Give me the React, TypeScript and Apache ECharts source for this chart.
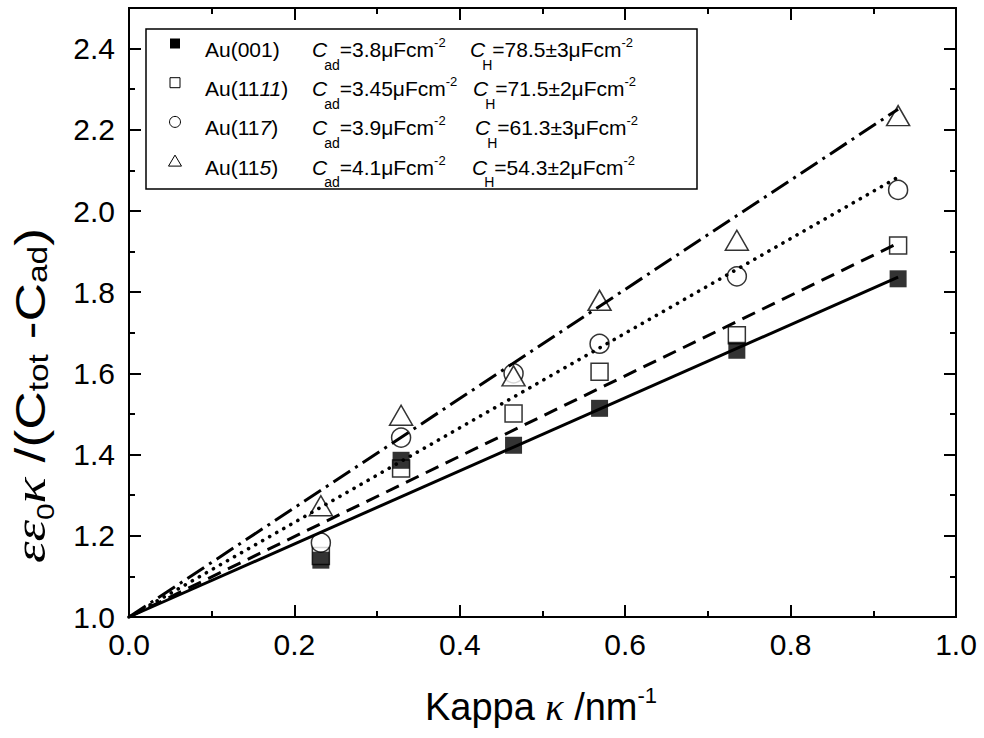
import React, { useEffect, useRef } from 'react';
import * as echarts from 'echarts';

// ---------- data ----------
const kappa = [0.232, 0.329, 0.465, 0.569, 0.735, 0.93];
const au001 = [1.14, 1.386, 1.423, 1.514, 1.657, 1.833];
const au1111 = [1.15, 1.366, 1.501, 1.604, 1.694, 1.915];
const au117 = [1.183, 1.442, 1.6, 1.673, 1.839, 2.052];
const au115 = [1.274, 1.497, 1.594, 1.78, 1.928, 2.235];
const fitSlopes = [0.9, 0.99, 1.165, 1.345]; // 001, 1111, 117, 115
const fitRange = [0, 0.93];
const fitIntercept = 1.0;

const cAd = ['3.8', '3.45', '3.9', '4.1'];
const cH = ['78.5±3', '71.5±2', '61.3±3', '54.3±2'];
const xTitle = 'Kappa';
const SANS = 'Liberation Sans';
const SERIF = 'Liberation Serif';

type Seg = { t: string; s: number; serif?: boolean; i?: boolean; dy?: number; gap?: number };

let _ctx: CanvasRenderingContext2D | null = null;
function textWidth(t: string, s: number, fam: string, italic?: boolean) {
  if (!_ctx) _ctx = document.createElement('canvas').getContext('2d');
  _ctx!.font = `${italic ? 'italic ' : ''}${s}px "${fam}"`;
  return _ctx!.measureText(t).width;
}
function segsWidth(segs: Seg[]) {
  return segs.reduce((a, g) => a + textWidth(g.t, g.s, g.serif ? SERIF : SANS, g.i) + (g.gap || 0), 0);
}
function buildSegs(segs: Seg[], x0: number, yc: number) {
  let x = x0;
  const out: any[] = [];
  for (const g of segs) {
    const fam = g.serif ? SERIF : SANS;
    out.push({
      type: 'text',
      x,
      y: yc + (g.dy || 0),
      silent: true,
      style: {
        text: g.t,
        fontSize: g.s,
        fontFamily: fam,
        fontStyle: g.i ? 'italic' : 'normal',
        fill: '#000',
        align: 'left',
        verticalAlign: 'middle',
      },
    });
    x += textWidth(g.t, g.s, fam, g.i) + (g.gap || 0);
  }
  return out;
}

const surfaceSegs: Seg[][] = [
  [{ t: 'Au(001)', s: 21 }],
  [{ t: 'Au(11', s: 21 }, { t: '11', s: 21, i: true }, { t: ')', s: 21 }],
  [{ t: 'Au(11', s: 21 }, { t: '7', s: 21, i: true }, { t: ')', s: 21 }],
  [{ t: 'Au(11', s: 21 }, { t: '5', s: 21, i: true }, { t: ')', s: 21 }],
];
const symbolKinds = ['filledRect', 'rect', 'circle', 'triangle'];

export default function App() {
  const ref = useRef<HTMLDivElement>(null);
  useEffect(() => {
    if (!ref.current) return;
    const chart = echarts.init(ref.current, null, { renderer: 'svg' });

    const tickStyle = { color: '#000', width: 2 };
    const mkX = (pos: 'bottom' | 'top', labels: boolean) => ({
      type: 'value',
      position: pos,
      min: 0,
      max: 1,
      interval: 0.2,
      axisLine: { show: true, onZero: false, lineStyle: { color: '#000', width: 2 } },
      axisTick: { show: true, inside: true, length: 12, lineStyle: tickStyle },
      minorTick: { show: true, splitNumber: 2, length: 6, lineStyle: tickStyle },
      splitLine: { show: false },
      minorSplitLine: { show: false },
      axisLabel: {
        show: labels,
        fontSize: 30,
        fontFamily: SANS,
        color: '#000',
        margin: 12,
        formatter: (v: number) => v.toFixed(1),
      },
    });
    const mkY = (pos: 'left' | 'right', interval: number, len: number, labels: boolean) => ({
      type: 'value',
      position: pos,
      min: 1,
      max: 2.5,
      interval,
      axisLine: { show: true, onZero: false, lineStyle: { color: '#000', width: 2 } },
      axisTick: { show: true, inside: true, length: len, lineStyle: tickStyle },
      splitLine: { show: false },
      axisLabel: {
        show: labels,
        fontSize: 30,
        fontFamily: SANS,
        color: '#000',
        margin: 14,
        showMaxLabel: false,
        formatter: (v: number) => (Math.abs(v - 2.5) < 1e-6 ? '' : v.toFixed(1)),
      },
    });

    const hollow = { color: '#fff', borderColor: '#000', borderWidth: 1.5 };
    const pts = (ys: number[]) => kappa.map((k, i) => [k, ys[i]]);
    const fit = (slope: number) => fitRange.map((k) => [k, fitIntercept + slope * k]);
    const lineTypes: any[] = ['solid', [14, 8], [0.1, 8], [20, 6, 3, 6]];
    const lineCaps = ['butt', 'butt', 'round', 'butt'];
    const lineWidths = [3, 3, 3.6, 3];

    // legend graphic
    const graphic: any[] = [];
    graphic.push({
      type: 'rect',
      shape: { x: 146, y: 29, width: 551, height: 160 },
      style: { fill: 'none', stroke: '#000', lineWidth: 1.5 },
      silent: true,
    });
    const cHx = [470, 473, 475, 472];
    for (let r = 0; r < 4; r++) {
      const yc = 49.5 + r * 39.2;
      const sy = yc - 6;
      const kind = symbolKinds[r];
      if (kind === 'filledRect') {
        graphic.push({ type: 'rect', shape: { x: 170, y: sy - 5, width: 10, height: 10 }, style: { fill: '#000' } });
      } else if (kind === 'rect') {
        graphic.push({ type: 'rect', shape: { x: 170, y: sy - 5, width: 10, height: 10 }, style: { fill: '#fff', stroke: '#000', lineWidth: 1 } });
      } else if (kind === 'circle') {
        graphic.push({ type: 'circle', shape: { cx: 175, cy: sy, r: 5.5 }, style: { fill: '#fff', stroke: '#000', lineWidth: 1 } });
      } else {
        graphic.push({
          type: 'polygon',
          shape: { points: [[175, sy - 6], [181.5, sy + 5], [168.5, sy + 5]] },
          style: { fill: '#fff', stroke: '#000', lineWidth: 1 },
        });
      }
      graphic.push(...buildSegs(surfaceSegs[r], 205, yc));
      graphic.push(
        ...buildSegs(
          [
            { t: 'C', s: 21, i: true, gap: -3 },
            { t: 'ad', s: 14, dy: 15 },
            { t: '=' + cAd[r] + 'μFcm', s: 21 },
            { t: '-2', s: 13, dy: -7 },
          ],
          312,
          yc
        )
      );
      graphic.push(
        ...buildSegs(
          [
            { t: 'C', s: 21, i: true, gap: -3 },
            { t: 'H', s: 14, dy: 15 },
            { t: '=' + cH[r] + 'μFcm', s: 21 },
            { t: '-2', s: 13, dy: -7 },
          ],
          cHx[r],
          yc
        )
      );
    }

    // x title
    const xSegs: Seg[] = [
      { t: xTitle + ' ', s: 38 },
      { t: 'κ', s: 38, serif: true, i: true },
      { t: ' /nm', s: 38 },
      { t: '-1', s: 22, dy: -12 },
    ];
    const xw = segsWidth(xSegs);
    graphic.push(...buildSegs(xSegs, 541 - xw / 2, 707));

    // y title (rotated), stretched along its length to span y=563 up to y=228
    const ySegs: Seg[] = [
      { t: 'εε', s: 44, serif: true, i: true },
      { t: '0', s: 24, dy: 16 },
      { t: 'κ', s: 44, serif: true, i: true },
      { t: ' /(C', s: 43 },
      { t: 'tot', s: 27, dy: 8 },
      { t: ' -C', s: 43 },
      { t: 'ad', s: 27, dy: 7 },
      { t: ')', s: 43 },
    ];
    const natural = segsWidth(ySegs);
    const stretch = (563 - 228) / natural;
    graphic.push({
      type: 'group',
      x: 30,
      y: 563,
      rotation: Math.PI / 2,
      scaleX: stretch,
      silent: true,
      children: buildSegs(ySegs, 0, 0),
    });

    chart.setOption({
      animation: false,
      backgroundColor: '#fff',
      grid: { left: 129, right: 28, top: 8, bottom: 121, containLabel: false },
      xAxis: [mkX('bottom', true), mkX('top', false)],
      yAxis: [
        mkY('left', 0.2, 12, true),
        mkY('left', 0.1, 6, false),
        mkY('right', 0.2, 12, false),
        mkY('right', 0.1, 6, false),
      ],
      series: [
        { name: 'Au(1111)', type: 'scatter', symbol: 'rect', symbolSize: 17, itemStyle: hollow, data: pts(au1111), z: 2 },
        { name: 'Au(117)', type: 'scatter', symbol: 'circle', symbolSize: 19, itemStyle: hollow, data: pts(au117), z: 2 },
        { name: 'Au(115)', type: 'scatter', symbol: 'triangle', symbolSize: [23, 20], itemStyle: hollow, data: pts(au115), z: 2 },
        { name: 'Au(001)', type: 'scatter', symbol: 'rect', symbolSize: 17, itemStyle: { color: '#000' }, data: pts(au001), z: 2 },
        ...fitSlopes.map((s, i) => ({
          name: 'fit' + i,
          type: 'line',
          symbol: 'none',
          showSymbol: false,
          z: 3,
          lineStyle: { color: '#000', width: lineWidths[i], type: lineTypes[i], cap: lineCaps[i] },
          data: fit(s),
        })),
      ],
      graphic,
    });
    return () => chart.dispose();
  }, []);
  return (
    <div
      ref={ref}
      style={{ position: 'fixed', left: 0, top: 0, width: 984, height: 738, background: '#fff' }}
    />
  );
}
